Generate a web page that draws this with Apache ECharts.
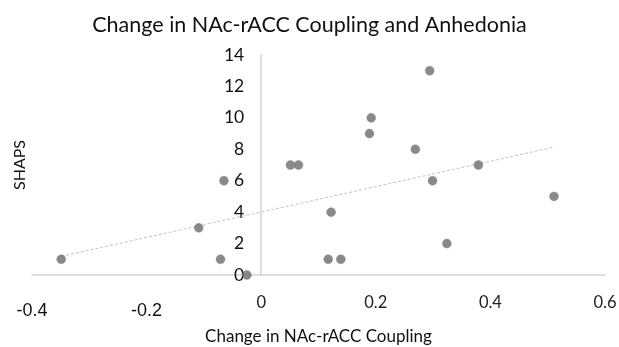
<!DOCTYPE html>
<html>
<head>
<meta charset="utf-8">
<script src="https://cdn.jsdelivr.net/npm/echarts@6/dist/echarts.min.js"></script>
<style>
  html, body { margin: 0; padding: 0; background: #fff; }
  #main { width: 619px; height: 347px; }
</style>
</head>
<body>
<div id="main"></div>
<script>
// coupling change (x) and SHAPS score (y) for each subject
var couplingChange = [-0.349, -0.109, -0.065, -0.071, -0.025, 0.051, 0.065, 0.294, 0.192,
                      0.189, 0.269, 0.379, 0.299, 0.511, 0.122, 0.324, 0.117, 0.139];
var shapsScores = [1, 3, 6, 1, 0, 7, 7, 13, 10, 9, 8, 7, 6, 5, 4, 2, 1, 1];
var xTicks = [-0.4, -0.2, 0, 0.2, 0.4, 0.6];
var yTicks = [0, 2, 4, 6, 8, 10, 12, 14];

var points = couplingChange.map(function (x, i) { return [x, shapsScores[i]]; });

// linear trend line (least squares)
var n = points.length, sx = 0, sy = 0, sxy = 0, sxx = 0;
points.forEach(function (p) { sx += p[0]; sy += p[1]; sxy += p[0] * p[1]; sxx += p[0] * p[0]; });
var slope = (n * sxy - sx * sy) / (n * sxx - sx * sx);
var intercept = (sy - slope * sx) / n;
var xMin = Math.min.apply(null, couplingChange), xMax = Math.max.apply(null, couplingChange);
var trend = [[xMin, intercept + slope * xMin], [xMax, intercept + slope * xMax]];

var gridLeft = 32, gridRight = 14;
// the y axis sits at x = 0, shift it there from the grid's left edge
var plotW = 619 - gridLeft - gridRight;
var yAxisShift = -plotW * (0 - xTicks[0]) / (xTicks[xTicks.length - 1] - xTicks[0]);

var font = 'Lato, "Open Sans", sans-serif';
var myChart = echarts.init(document.getElementById('main'));
var option = {
    animation: false,
    title: {
        text: 'Change in NAc-rACC Coupling and Anhedonia',
        left: 'center',
        top: 9,
        textStyle: { color: '#111', fontSize: 21.5, fontWeight: 'normal', fontFamily: font }
    },
    grid: { left: gridLeft, right: gridRight, top: 55, bottom: 72, containLabel: false, outerBoundsMode: 'none' },
    xAxis: {
        type: 'value',
        min: xTicks[0],
        max: xTicks[xTicks.length - 1],
        interval: 0.2,
        name: 'Change in NAc-rACC Coupling',
        nameLocation: 'middle',
        nameGap: 53,
        nameTextStyle: { color: '#111', fontSize: 17, fontFamily: font },
        splitLine: { show: false },
        axisTick: { show: false },
        axisLine: { onZero: false, lineStyle: { color: '#d4d4d4', width: 1.5 } },
        axisLabel: {
            margin: 19,
            formatter: function (v) {
                var s = String(Math.round(v * 10) / 10);
                return v < 0 ? '{neg|' + s + '}' : '{pos|' + s + '}';
            },
            rich: {
                neg: { fontFamily: '"Liberation Sans", Arial, sans-serif', fontSize: 18, color: '#111', padding: [8, 0, 0, 0] },
                pos: { fontFamily: font, fontSize: 16.5, color: '#222' }
            }
        }
    },
    yAxis: {
        type: 'value',
        min: yTicks[0],
        max: yTicks[yTicks.length - 1],
        interval: 2,
        offset: yAxisShift,
        name: 'SHAPS',
        nameLocation: 'middle',
        nameGap: 233,
        nameTextStyle: { color: '#111', fontSize: 16, fontFamily: font },
        splitLine: { show: false },
        axisTick: { show: false },
        axisLine: { onZero: false, lineStyle: { color: '#d4d4d4', width: 1.5 } },
        axisLabel: { margin: 17, color: '#111', fontSize: 17.5, fontFamily: font, padding: [4, 0, 0, 0] }
    },
    series: [{
        type: 'line',
        data: trend,
        symbol: 'none',
        silent: true,
        lineStyle: { color: '#c2c2c2', width: 1, type: [3, 2] },
        z: 1
    }, {
        type: 'scatter',
        data: points,
        symbolSize: 9,
        itemStyle: { color: '#6b6b6b', borderColor: '#8a8a8a', borderWidth: 0.5 },
        z: 2
    }]
};
myChart.setOption(option);
</script>
</body>
</html>
